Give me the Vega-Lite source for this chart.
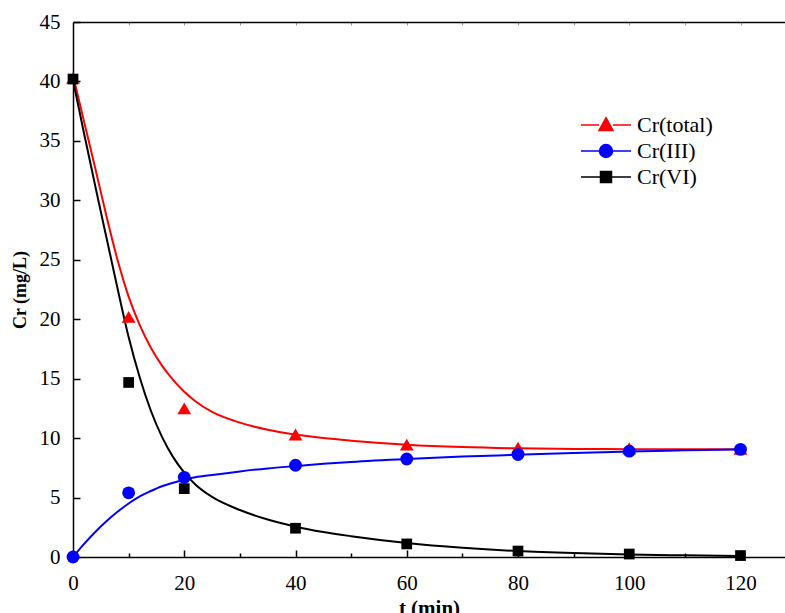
{
  "$schema": "https://vega.github.io/schema/vega-lite/v6.json",
  "width": 712,
  "height": 535,
  "autosize": "none",
  "padding": {"left": 73, "top": 22, "right": 0, "bottom": 56},
  "background": "white",
  "config": {
    "view": {"stroke": null},
    "font": "Liberation Serif",
    "axis": {"labelFont": "Liberation Serif", "titleFont": "Liberation Serif"},
    "legend": {"labelFont": "Liberation Serif"}
  },
  "datasets": {
    "curves": [
      {"series": "Cr(total)", "t": 0, "value": 40.5},
      {"series": "Cr(total)", "t": 2, "value": 36.6},
      {"series": "Cr(total)", "t": 4, "value": 32.7},
      {"series": "Cr(total)", "t": 6, "value": 28.7},
      {"series": "Cr(total)", "t": 8, "value": 25.0},
      {"series": "Cr(total)", "t": 10, "value": 21.9},
      {"series": "Cr(total)", "t": 12, "value": 19.5},
      {"series": "Cr(total)", "t": 14, "value": 17.6},
      {"series": "Cr(total)", "t": 16, "value": 16.1},
      {"series": "Cr(total)", "t": 18, "value": 14.9},
      {"series": "Cr(total)", "t": 20, "value": 13.9},
      {"series": "Cr(total)", "t": 22, "value": 13.1},
      {"series": "Cr(total)", "t": 25, "value": 12.2},
      {"series": "Cr(total)", "t": 30, "value": 11.3},
      {"series": "Cr(total)", "t": 35, "value": 10.7},
      {"series": "Cr(total)", "t": 40, "value": 10.3},
      {"series": "Cr(total)", "t": 45, "value": 10.0},
      {"series": "Cr(total)", "t": 50, "value": 9.78},
      {"series": "Cr(total)", "t": 60, "value": 9.45},
      {"series": "Cr(total)", "t": 70, "value": 9.25},
      {"series": "Cr(total)", "t": 80, "value": 9.14},
      {"series": "Cr(total)", "t": 90, "value": 9.09},
      {"series": "Cr(total)", "t": 100, "value": 9.07},
      {"series": "Cr(total)", "t": 110, "value": 9.06},
      {"series": "Cr(total)", "t": 120, "value": 9.05},
      {"series": "Cr(III)", "t": 0, "value": 0},
      {"series": "Cr(III)", "t": 2, "value": 1.1},
      {"series": "Cr(III)", "t": 4, "value": 2.1},
      {"series": "Cr(III)", "t": 6, "value": 3.0},
      {"series": "Cr(III)", "t": 8, "value": 3.8},
      {"series": "Cr(III)", "t": 10, "value": 4.5},
      {"series": "Cr(III)", "t": 12, "value": 5.1},
      {"series": "Cr(III)", "t": 14, "value": 5.55},
      {"series": "Cr(III)", "t": 16, "value": 5.95},
      {"series": "Cr(III)", "t": 18, "value": 6.25},
      {"series": "Cr(III)", "t": 20, "value": 6.5},
      {"series": "Cr(III)", "t": 22, "value": 6.7},
      {"series": "Cr(III)", "t": 25, "value": 6.9},
      {"series": "Cr(III)", "t": 30, "value": 7.2},
      {"series": "Cr(III)", "t": 35, "value": 7.45},
      {"series": "Cr(III)", "t": 40, "value": 7.65},
      {"series": "Cr(III)", "t": 45, "value": 7.84},
      {"series": "Cr(III)", "t": 50, "value": 8.0},
      {"series": "Cr(III)", "t": 60, "value": 8.25},
      {"series": "Cr(III)", "t": 70, "value": 8.45},
      {"series": "Cr(III)", "t": 80, "value": 8.6},
      {"series": "Cr(III)", "t": 90, "value": 8.75},
      {"series": "Cr(III)", "t": 100, "value": 8.87},
      {"series": "Cr(III)", "t": 110, "value": 8.97},
      {"series": "Cr(III)", "t": 120, "value": 9.06},
      {"series": "Cr(VI)", "t": 0, "value": 40.1},
      {"series": "Cr(VI)", "t": 2, "value": 35.6},
      {"series": "Cr(VI)", "t": 4, "value": 31.2},
      {"series": "Cr(VI)", "t": 6, "value": 26.9},
      {"series": "Cr(VI)", "t": 8, "value": 22.6},
      {"series": "Cr(VI)", "t": 10, "value": 18.5},
      {"series": "Cr(VI)", "t": 12, "value": 15.1},
      {"series": "Cr(VI)", "t": 14, "value": 12.3},
      {"series": "Cr(VI)", "t": 16, "value": 10.1},
      {"series": "Cr(VI)", "t": 18, "value": 8.4},
      {"series": "Cr(VI)", "t": 20, "value": 7.1},
      {"series": "Cr(VI)", "t": 22, "value": 6.1},
      {"series": "Cr(VI)", "t": 25, "value": 5.05},
      {"series": "Cr(VI)", "t": 30, "value": 3.95},
      {"series": "Cr(VI)", "t": 35, "value": 3.15},
      {"series": "Cr(VI)", "t": 40, "value": 2.55},
      {"series": "Cr(VI)", "t": 45, "value": 2.1},
      {"series": "Cr(VI)", "t": 50, "value": 1.75},
      {"series": "Cr(VI)", "t": 60, "value": 1.18},
      {"series": "Cr(VI)", "t": 70, "value": 0.78},
      {"series": "Cr(VI)", "t": 80, "value": 0.5},
      {"series": "Cr(VI)", "t": 90, "value": 0.33},
      {"series": "Cr(VI)", "t": 100, "value": 0.22},
      {"series": "Cr(VI)", "t": 110, "value": 0.14},
      {"series": "Cr(VI)", "t": 120, "value": 0.08}
    ],
    "points": [
      {"series": "Cr(total)", "t": 0, "value": 40.3},
      {"series": "Cr(total)", "t": 10, "value": 20.2},
      {"series": "Cr(total)", "t": 20, "value": 12.5},
      {"series": "Cr(total)", "t": 40, "value": 10.3},
      {"series": "Cr(total)", "t": 60, "value": 9.45},
      {"series": "Cr(total)", "t": 80, "value": 9.2},
      {"series": "Cr(total)", "t": 100, "value": 9.15},
      {"series": "Cr(total)", "t": 120, "value": 9.1},
      {"series": "Cr(III)", "t": 0, "value": 0},
      {"series": "Cr(III)", "t": 10, "value": 5.4},
      {"series": "Cr(III)", "t": 20, "value": 6.7},
      {"series": "Cr(III)", "t": 40, "value": 7.72},
      {"series": "Cr(III)", "t": 60, "value": 8.24},
      {"series": "Cr(III)", "t": 80, "value": 8.62},
      {"series": "Cr(III)", "t": 100, "value": 8.9},
      {"series": "Cr(III)", "t": 120, "value": 9.05},
      {"series": "Cr(VI)", "t": 0, "value": 40.2},
      {"series": "Cr(VI)", "t": 10, "value": 14.68},
      {"series": "Cr(VI)", "t": 20, "value": 5.75},
      {"series": "Cr(VI)", "t": 40, "value": 2.42},
      {"series": "Cr(VI)", "t": 60, "value": 1.1},
      {"series": "Cr(VI)", "t": 80, "value": 0.5},
      {"series": "Cr(VI)", "t": 100, "value": 0.25},
      {"series": "Cr(VI)", "t": 120, "value": 0.12}
    ]
  },
  "resolve": {"axis": {"x": "independent"}},
  "layer": [
    {
      "data": {"name": "curves"},
      "mark": {"type": "line", "strokeWidth": 2, "interpolate": "monotone", "clip": true},
      "encoding": {
        "x": {
          "field": "t", "type": "quantitative",
          "scale": {"domain": [0, 128], "nice": false, "zero": false},
          "axis": {
            "orient": "bottom",
            "title": "t (min)",
            "titleFont": "Liberation Serif",
            "titleFontSize": 21,
            "titleFontWeight": "bold",
            "titleColor": "black",
            "titlePadding": 1,
            "values": [0, 10, 20, 30, 40, 50, 60, 70, 80, 90, 100, 110, 120],
            "labelExpr": "datum.value % 20 === 0 ? datum.label : ''",
            "labelFont": "Liberation Serif",
            "labelFontSize": 21,
            "labelColor": "black",
            "labelPadding": 22,
            "labelFlush": false,
            "labelOverlap": false,
            "grid": false,
            "domainColor": "black",
            "domainWidth": 1.5,
            "tickColor": "black",
            "tickWidth": 1.5,
            "tickSize": {"condition": {"test": "datum.value % 20 === 0", "value": -7}, "value": -4}
          }
        },
        "y": {
          "field": "value", "type": "quantitative",
          "scale": {"domain": [0, 45], "nice": false},
          "axis": {
            "title": "Cr (mg/L)",
            "titleFont": "Liberation Serif",
            "titleFontSize": 18,
            "titleFontWeight": "bold",
            "titleColor": "black",
            "titlePadding": 10,
            "values": [0, 2.5, 5, 7.5, 10, 12.5, 15, 17.5, 20, 22.5, 25, 27.5, 30, 32.5, 35, 37.5, 40, 42.5, 45],
            "labelExpr": "datum.value % 5 === 0 ? datum.label : ''",
            "labelFont": "Liberation Serif",
            "labelFontSize": 21,
            "labelColor": "black",
            "labelPadding": 20,
            "labelFlush": false,
            "labelOverlap": false,
            "grid": false,
            "domainColor": "black",
            "domainWidth": 1.5,
            "tickColor": "black",
            "tickWidth": 1.5,
            "tickSize": {"condition": {"test": "datum.value % 5 === 0", "value": -7}, "value": -4}
          }
        },
        "color": {
          "field": "series", "type": "nominal",
          "scale": {"domain": ["Cr(total)", "Cr(III)", "Cr(VI)"], "range": ["#ff0000", "#0000ff", "#000000"]},
          "legend": {
            "title": null,
            "orient": "none",
            "legendX": 518.5,
            "legendY": 88.5,
            "padding": 0,
            "symbolSize": 756,
            "rowPadding": 0,
            "labelOffset": 16.5,
            "labelFont": "Liberation Serif",
            "labelFontSize": 22,
            "labelColor": "black",
            "labelLimit": 300,
            "encode": {
              "symbols": {
                "update": {
                  "shape": {"signal": "datum.value === 'Cr(total)' ? 'M-1.82,0H-0.51M0.51,0H1.82M0,-0.53L0.51,0.4L-0.51,0.4Z' : datum.value === 'Cr(III)' ? 'M-1.82,0H-0.47M0.47,0H1.82M0.47,0A0.47,0.47 0 1,1 -0.47,0A0.47,0.47 0 1,1 0.47,0Z' : 'M-1.82,0H-0.4M0.4,0H1.82M-0.4,-0.4H0.4V0.4H-0.4Z'"},
                  "size": {"value": 756},
                  "fill": {"scale": "color", "field": "value"},
                  "stroke": {"scale": "color", "field": "value"},
                  "strokeWidth": {"value": 1.5},
                  "opacity": {"value": 1},
                  "fillOpacity": {"value": 1}
                }
              }
            }
          }
        }
      }
    },
    {
      "data": {"name": "points"},
      "transform": [{"filter": "datum.series === 'Cr(total)'"}],
      "mark": {"type": "point", "filled": true, "opacity": 1, "shape": "triangle-up", "size": 190, "color": "#ff0000", "clip": false},
      "encoding": {
        "x": {
          "field": "t", "type": "quantitative",
          "axis": {
            "orient": "top",
            "title": null,
            "labels": false,
            "values": [0, 10, 20, 30, 40, 50, 60, 70, 80, 90, 100, 110, 120],
            "grid": false,
            "domainColor": "black",
            "domainWidth": 1.5,
            "tickColor": "#999999",
            "tickWidth": 1,
            "tickSize": -3
          }
        },
        "y": {"field": "value", "type": "quantitative"}
      }
    },
    {
      "data": {"name": "points"},
      "transform": [{"filter": "datum.series === 'Cr(III)'"}],
      "mark": {"type": "point", "filled": true, "opacity": 1, "shape": "circle", "size": 165, "color": "#0000ff", "clip": false},
      "encoding": {
        "x": {"field": "t", "type": "quantitative", "axis": null},
        "y": {"field": "value", "type": "quantitative"}
      }
    },
    {
      "data": {"name": "points"},
      "transform": [{"filter": "datum.series === 'Cr(VI)'"}],
      "mark": {"type": "point", "filled": true, "opacity": 1, "shape": "square", "size": 115, "color": "#000000", "clip": false},
      "encoding": {
        "x": {"field": "t", "type": "quantitative", "axis": null},
        "y": {"field": "value", "type": "quantitative"}
      }
    }
  ]
}
